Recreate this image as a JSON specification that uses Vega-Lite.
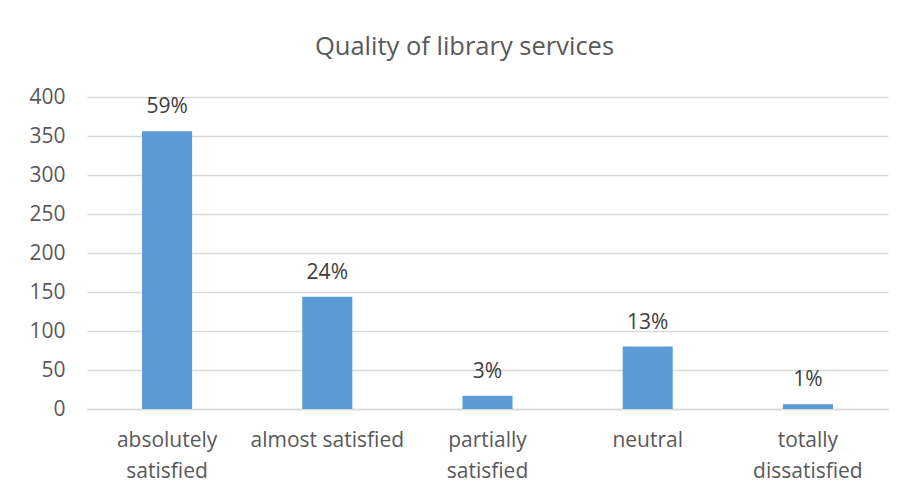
{
  "$schema": "https://vega.github.io/schema/vega-lite/v6.json",
  "autosize": "none",
  "width": 801,
  "height": 312,
  "padding": {"left": 87, "top": 97, "right": 20, "bottom": 87},
  "background": "white",
  "config": {
    "view": {"stroke": null},
    "font": "Open Sans"
  },
  "title": {
    "text": "Quality of library services",
    "font": "Open Sans",
    "fontSize": 25.5,
    "fontWeight": "normal",
    "color": "#595959",
    "anchor": "middle",
    "dx": -23,
    "offset": 26
  },
  "data": {
    "values": [
      {"category": "absolutely satisfied", "count": 356, "pct": "59%"},
      {"category": "almost satisfied", "count": 144, "pct": "24%"},
      {"category": "partially satisfied", "count": 17, "pct": "3%"},
      {"category": "neutral", "count": 80, "pct": "13%"},
      {"category": "totally dissatisfied", "count": 6, "pct": "1%"}
    ]
  },
  "encoding": {
    "x": {
      "field": "category",
      "type": "nominal",
      "sort": null,
      "title": null,
      "scale": {"paddingInner": 0.6875, "paddingOuter": 0.34375},
      "axis": {
        "labelAngle": 0,
        "labelFont": "Open Sans",
        "labelFontSize": 21,
        "labelColor": "#595959",
        "labelPadding": 20,
        "labelLineHeight": 31,
        "labelExpr": "datum.label == 'almost satisfied' ? datum.label : split(datum.label, ' ')",
        "ticks": false,
        "domainColor": "#D9D9D9",
        "domainWidth": 1.5,
        "labelBaseline": "top"
      }
    },
    "y": {
      "field": "count",
      "type": "quantitative",
      "title": null,
      "scale": {"domain": [0, 400]},
      "axis": {
        "values": [0, 50, 100, 150, 200, 250, 300, 350, 400],
        "labelFont": "Open Sans",
        "labelFontSize": 21,
        "labelColor": "#595959",
        "labelPadding": 22,
        "ticks": false,
        "domain": false,
        "gridColor": "#D9D9D9",
        "gridWidth": 1.5
      }
    }
  },
  "layer": [
    {"mark": {"type": "bar", "color": "#5B9BD5"}},
    {
      "mark": {"type": "text", "baseline": "bottom", "dy": -14, "fontSize": 21, "font": "Open Sans", "color": "#404040"},
      "encoding": {"text": {"field": "pct"}}
    }
  ]
}
